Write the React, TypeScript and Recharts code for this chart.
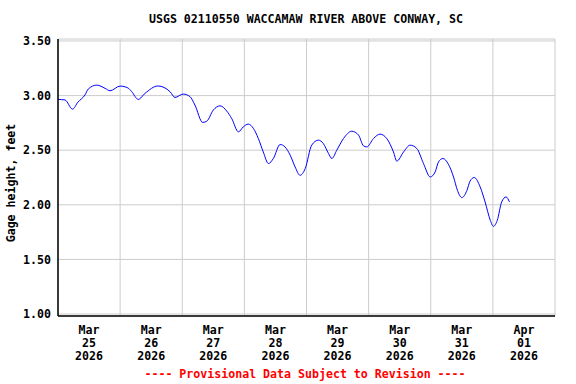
import React from 'react';
import { LineChart, Line, XAxis, YAxis, CartesianGrid } from 'recharts';

// hours since Mar 25 2026 00:00
const hours = [0, 2.7, 5.6, 7.7, 10.4, 11.7, 15.0, 18.2, 20.1, 24.0, 27.0, 28.5, 31.0, 33.6, 38.6, 43.3, 45.2, 48.4, 51.0, 52.9, 55.9, 57.5, 60.0, 62.6, 65.2, 67.1, 69.7, 71.6, 73.5, 75.5, 77.4, 79.3, 81.3, 83.2, 85.8, 87.7, 89.7, 91.6, 93.5, 95.5, 98.0, 100.6, 102.5, 104.5, 105.8, 107.7, 110.3, 113.5, 116.1, 118.0, 119.3, 121.9, 124.4, 127.0, 129.6, 130.9, 133.5, 136.0, 138.6, 141.2, 143.8, 145.7, 147.0, 148.7, 150.8, 152.8, 154.3, 156.0, 158.0, 159.2, 160.8, 163.1, 165.0, 167.0, 168.2, 169.7, 171.4, 173.1, 174.4];
const gage = [2.965, 2.96, 2.876, 2.94, 3.005, 3.06, 3.096, 3.066, 3.044, 3.087, 3.07, 3.035, 2.965, 3.02, 3.088, 3.035, 2.983, 3.014, 2.99, 2.913, 2.754, 2.766, 2.867, 2.906, 2.858, 2.79, 2.668, 2.714, 2.739, 2.699, 2.607, 2.484, 2.378, 2.424, 2.552, 2.53, 2.454, 2.347, 2.27, 2.332, 2.546, 2.592, 2.561, 2.47, 2.424, 2.5, 2.607, 2.674, 2.638, 2.54, 2.53, 2.607, 2.647, 2.607, 2.484, 2.4, 2.484, 2.546, 2.516, 2.378, 2.255, 2.301, 2.393, 2.424, 2.372, 2.255, 2.133, 2.066, 2.133, 2.218, 2.25, 2.163, 2.026, 1.858, 1.803, 1.858, 2.026, 2.072, 2.026];

const yTicks = [1.0, 1.5, 2.0, 2.5, 3.0, 3.5];
const labelHours = [12, 36, 60, 84, 108, 132, 156, 180];
const gridHours = [24, 48, 72, 96, 120, 144, 168];
const monthLabels = ['Mar', 'Mar', 'Mar', 'Mar', 'Mar', 'Mar', 'Mar', 'Apr'];
const dayLabels = ['25', '26', '27', '28', '29', '30', '31', '01'];
const yearLabels = ['2026', '2026', '2026', '2026', '2026', '2026', '2026', '2026'];

const data = hours.map((h, i) => ({ h, v: gage[i] }));

const FONT = '"DejaVu Sans Mono", "Liberation Mono", monospace';

const DateTick = (props: any) => {
  const { x, payload } = props;
  const i = labelHours.indexOf(payload.value);
  if (i < 0) return null;
  const y0 = 316;
  return (
    <text x={x} y={y0} textAnchor="middle" fontFamily={FONT} fontWeight="bold" fontSize={11.6} fill="#000">
      <tspan x={x} dy={18}>{monthLabels[i]}</tspan>
      <tspan x={x} dy={13}>{dayLabels[i]}</tspan>
      <tspan x={x} dy={13}>{yearLabels[i]}</tspan>
    </text>
  );
};

export default function App() {
  return (
    <div style={{ position: 'absolute', left: 0, top: 0, width: 576, height: 384, background: '#fff' }}>
      <LineChart width={576} height={384} data={data} margin={{ top: 39, right: 21, bottom: 0, left: 0 }}>
        <CartesianGrid stroke="#cccccc" strokeWidth={1} xAxisId="grid" />
        <XAxis
          dataKey="h"
          type="number"
          domain={[0, 192]}
          ticks={labelHours}
          tick={<DateTick />}
          tickLine={false}
          axisLine={{ stroke: '#000', strokeWidth: 1.5 }}
          height={68}
          interval={0}
          allowDataOverflow
        />
        <XAxis xAxisId="grid" dataKey="h" type="number" domain={[0, 192]} ticks={gridHours} hide />
        <XAxis xAxisId="top" orientation="top" dataKey="h" type="number" domain={[0, 192]} tick={false} tickLine={false} axisLine={{ stroke: '#000', strokeWidth: 1.5 }} height={0} />
        <YAxis
          type="number"
          domain={[0.982, 3.518]}
          ticks={yTicks}
          tickFormatter={(v: number) => v.toFixed(2)}
          tick={{ fontFamily: FONT, fontWeight: 'bold', fontSize: 11.6, fill: '#000' }}
          tickLine={false}
          tickSize={6}
          tickMargin={1}
          axisLine={{ stroke: '#000', strokeWidth: 1.5 }}
          width={58}
          interval={0}
          allowDataOverflow
        />
        <YAxis yAxisId="right" orientation="right" type="number" domain={[0.982, 3.518]} tick={false} tickLine={false} axisLine={{ stroke: '#000', strokeWidth: 1.5 }} width={0} />
        <Line type="monotone" dataKey="v" stroke="#0000ff" strokeWidth={1} dot={false} isAnimationActive={false} />
      </LineChart>
      <svg width={576} height={384} style={{ position: 'absolute', left: 0, top: 0, pointerEvents: 'none' }}>
        <text x={306} y={23} textAnchor="middle" fontFamily={FONT} fontWeight="bold" fontSize={11.6} fill="#000">
          USGS 02110550 WACCAMAW RIVER ABOVE CONWAY, SC
        </text>
        <text x={15} y={183} transform="rotate(-90 15 183)" textAnchor="middle" fontFamily={FONT} fontWeight="bold" fontSize={11.6} fill="#000">
          Gage height, feet
        </text>
        <text x={305} y={378} textAnchor="middle" fontFamily={FONT} fontWeight="bold" fontSize={11.6} fill="#ff0000">
          ---- Provisional Data Subject to Revision ----
        </text>
      </svg>
    </div>
  );
}
